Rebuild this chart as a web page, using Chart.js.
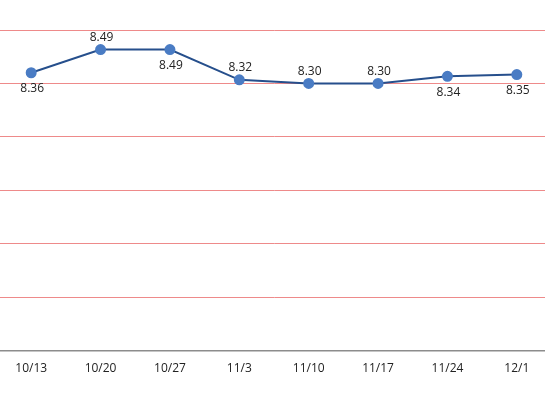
<!DOCTYPE html>
<html>
<head>
<meta charset="utf-8">
<script src="https://cdn.jsdelivr.net/npm/chart.js@4"></script>
<style>
  html, body { margin: 0; padding: 0; background: #fff; overflow: hidden; }
  #wrap { position: absolute; left: -10px; top: 0; width: 568px; height: 395px; }
</style>
</head>
<body>
<div id="wrap"><canvas id="lineChart"></canvas></div>
<script>
const weeks = [ '10/13', '10/20', '10/27', '11/3', '11/10', '11/17', '11/24', '12/1' ];
const scores = [ 8.36, 8.49, 8.49, 8.32, 8.30, 8.30, 8.34, 8.35 ];
// which side each value label sits on
const labelSide = [ 'below', 'above', 'below', 'above', 'above', 'above', 'below', 'below' ];

const pointLabels = {
    id: 'pointLabels',
    afterDatasetsDraw( chart ) {
        let ctx = chart.ctx;
        let meta = chart.getDatasetMeta( 0 );
        ctx.save();
        ctx.font = '12px "Open Sans", sans-serif';
        ctx.fillStyle = '#222';
        ctx.textAlign = 'center';
        ctx.textBaseline = 'middle';
        meta.data.forEach( function( pt, i ) {
            let dy = labelSide[ i ] === 'above' ? -12 : 16;
            ctx.fillText( scores[ i ].toFixed( 2 ), pt.x + 1, pt.y + dy );
        } );
        ctx.restore();
    }
};

let ctx = document.getElementById( 'lineChart' ).getContext( '2d' );
let myLineChart = new Chart( ctx, {
    type: 'line',
    data: {
        labels: weeks,
        datasets: [{
            data: scores,
            borderColor: '#264F8C',
            borderWidth: 2,
            pointBackgroundColor: '#4A7CC4',
            pointBorderColor: '#4A7CC4',
            pointRadius: 4.5,
            tension: 0,
        }],
    },
    options: {
        responsive: true,
        maintainAspectRatio: false,
        animation: false,
        layout: { padding: { top: 30, left: 0, right: 0, bottom: 8 } },
        plugins: {
            legend: { display: false },
            tooltip: { enabled: false },
        },
        scales: {
            x: {
                offset: true,
                grid: { display: false, drawTicks: false },
                border: { display: true, color: '#8c8c8c', width: 1.5 },
                ticks: {
                    color: '#222',
                    font: { family: '"Open Sans", sans-serif', size: 12 },
                    padding: 11,
                },
            },
            y: {
                min: 6.8,
                max: 8.6,
                ticks: { display: false, stepSize: 0.3 },
                grid: { color: '#EE8A8A', drawTicks: false },
                border: { display: false },
            },
        },
    },
    plugins: [ pointLabels ],
} );
</script>
</body>
</html>
